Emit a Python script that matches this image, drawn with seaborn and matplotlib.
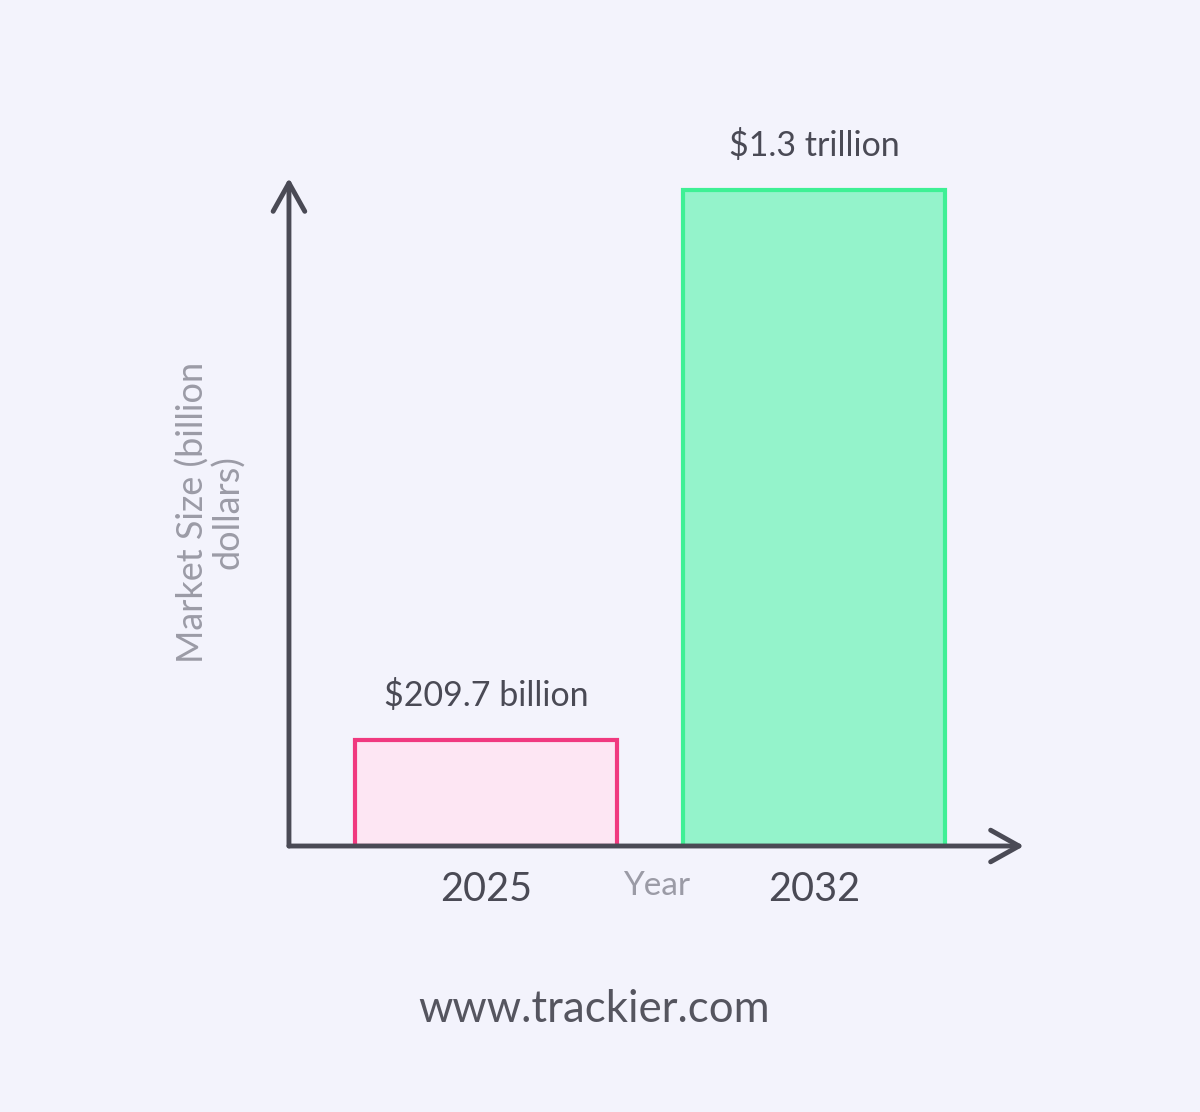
import matplotlib
matplotlib.use("Agg")
import matplotlib.pyplot as plt
import seaborn as sns
import pandas as pd

# chart values
years = ["2025", "2032"]
market_size = [209.7, 1300]
value_labels = ["$209.7 billion", "$1.3 trillion"]
fill_colors = ["#fde6f3", "#94f3cb"]
edge_colors = ["#f0397f", "#3ef095"]

BG = "#f3f3fc"
DARK = "#4a4a55"
GREY = "#9b9ba6"

sns.set_theme(style="white")
plt.rcParams['font.family'] = ['Lato', 'DejaVu Sans']

df = pd.DataFrame({'year': years, 'size': market_size})

fig = plt.figure(figsize=(12, 11.12), dpi=100, facecolor=BG)
ax = fig.add_axes([0.2408, 0.2392, 0.6125, 0.6007])
ax.set_facecolor(BG)

sns.barplot(data=df, x='year', y='size', hue='year', palette=fill_colors,
            width=0.8, legend=False, ax=ax, saturation=1)

for patch, ec in zip(ax.patches, edge_colors):
    patch.set_edgecolor(ec)
    patch.set_linewidth(3)
    patch.set_zorder(2)

# value labels above bars
for i, (val, lab) in enumerate(zip(market_size, value_labels)):
    ax.annotate(lab, xy=(i, val), xytext=(0, 32), textcoords='offset points',
                ha='center', va='center', fontsize=24.5, color=DARK)

ax.set_xlim(-0.60, 1.64)
ax.set_ylim(0, 1323.7)

for s in ax.spines.values():
    s.set_visible(False)

# arrow axes
arrow_props = dict(arrowstyle='->,head_length=1.7,head_width=0.95', color=DARK,
                   lw=3.5, shrinkA=0, shrinkB=0, capstyle='round', joinstyle='round')
ax.annotate('', xy=(0, 1), xytext=(0, 0), xycoords='axes fraction',
            arrowprops=arrow_props, annotation_clip=False)
ax.annotate('', xy=(1, 0), xytext=(0, 0), xycoords='axes fraction',
            arrowprops=arrow_props, annotation_clip=False)

ax.set_yticks([])
ax.tick_params(axis='x', length=0, pad=18, labelsize=28.5, labelcolor=DARK)
ax.set_xlabel('')
ax.set_ylabel('')

ax.text(0.5, -0.06, 'Year', transform=ax.transAxes, ha='center', va='center',
        fontsize=24, color=GREY)
ax.text(-0.107, 0.5, 'Market Size (billion\ndollars)', transform=ax.transAxes,
        rotation=90, ha='center', va='center', fontsize=26, color=GREY,
        multialignment='center', linespacing=1.05)

fig.text(0.495, 1 - 1010 / 1112, 'www.trackier.com', ha='center', va='center',
         fontsize=31.5, color="#55555f")

fig.savefig('out.png', dpi=100, facecolor=BG)
